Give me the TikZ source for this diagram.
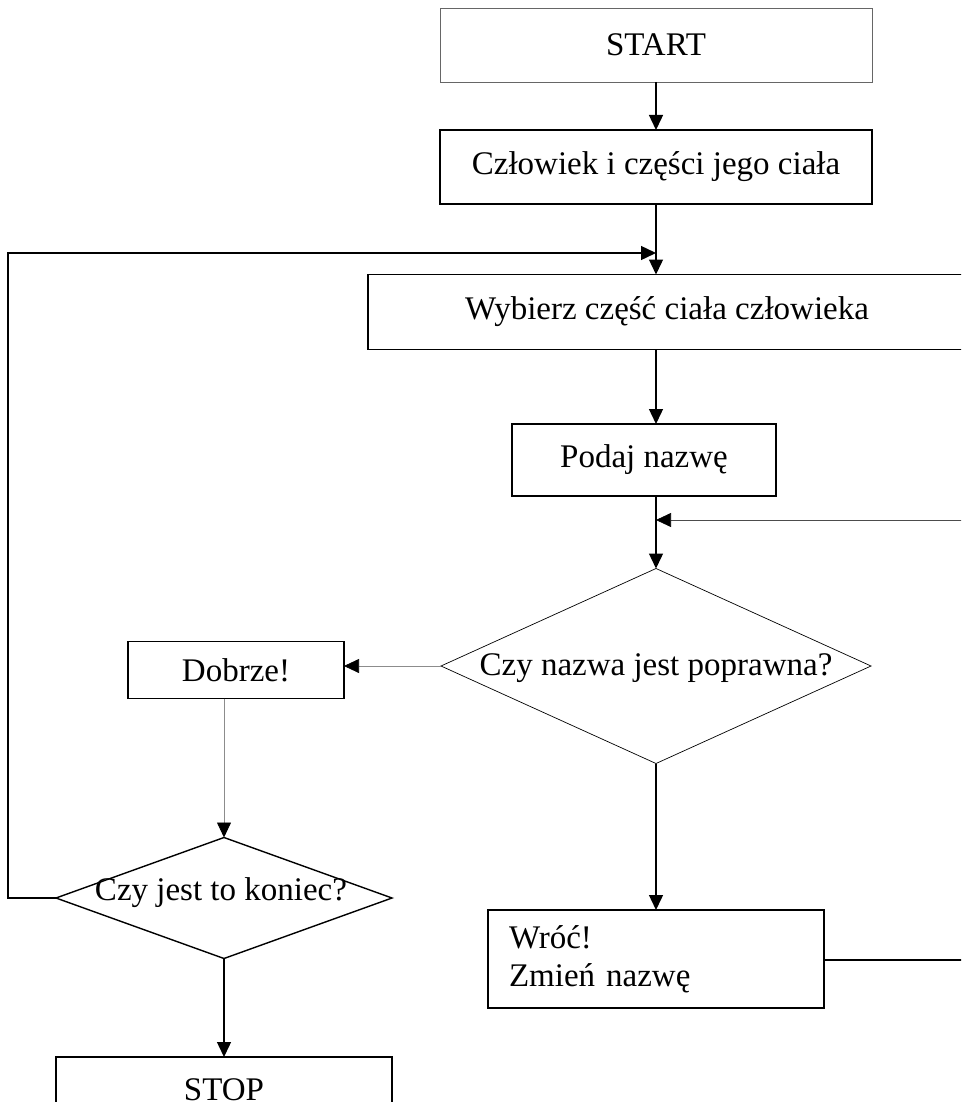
\documentclass[tikz,border=0pt]{standalone}
\usepackage{fontspec}
\setmainfont{Liberation Serif}
\usetikzlibrary{shapes.geometric,arrows.meta}
\begin{document}
\begin{tikzpicture}[x=1pt,y=-1pt,
  every node/.style={font=\fontsize{33}{38}\selectfont},
  thickln/.style={line width=1.4pt,draw=black},
  thinln/.style={line width=0.7pt,draw=black!70},
  greyln/.style={line width=0.7pt,draw=black!45},
  box/.style={rectangle,thickln,inner sep=0pt,outer sep=0pt},
  thinbox/.style={rectangle,line width=0.8pt,draw=black!60,inner sep=0pt,outer sep=0pt},
  dia/.style={diamond,inner sep=0pt,outer sep=0pt},
  tip/.style={-{Triangle[length=15pt 0,width=14pt 0,color=black,fill=black]}},
]
\useasboundingbox (0,0) rectangle (961,1102);
\clip (0,0) rectangle (961,1102);
\coordinate (axis) at (656,0);

\node[thinbox,minimum width=432pt,minimum height=74pt] (start) at (656,45) {START};
\node[box,minimum width=432pt,minimum height=74pt] (czl) at (656,167) {Człowiek i części jego ciała};
\node[box,minimum width=598pt,minimum height=75pt] (wyb) at (667,312) {Wybierz część ciała człowieka};
\node[box,minimum width=264pt,minimum height=72pt] (pod) at (644,460) {Podaj nazwę};
\node[dia,line width=0.7pt,draw=black,minimum width=430pt,minimum height=195pt] (d1) at (656,666) {};
\node (t1) at (656,668) {Czy nazwa jest poprawna?};
\node[box,minimum width=216pt,minimum height=57pt] (dob) at (236,670) {Dobrze!};
\node[dia,thickln,minimum width=336pt,minimum height=121pt] (d2) at (224,898) {};
\node (t2) at (221,893) {Czy jest to koniec?};
\node[box,minimum width=336pt,minimum height=98pt,text width=294pt,align=left] (wroc) at (656,959) {Wróć!\\Zmień nazwę};
\node[box,minimum width=336pt,minimum height=66pt] (stop) at (224,1090) {STOP};

\coordinate (lft) at (8,898);
\coordinate (lp) at (656,253);
\coordinate (rin) at (975,520);
\coordinate (rout) at (975,960);

\draw[thickln,tip] (start) -- (czl);
\draw[thickln,tip] (czl.south -| axis) -- (wyb.north -| axis);
\draw[thickln,tip] (d2.west) -- (lft) |- (lp);
\draw[thickln,tip] (wyb.south -| axis) -- (pod.north -| axis);
\draw[thickln,tip] (pod.south -| axis) -- (d1.north);
\draw[thinln,tip] (rin) -- (rin -| axis);
\draw[greyln,tip] (d1.west) -- (dob.east |- d1.west);
\draw[greyln,tip] (dob.south -| d2.north) -- (d2.north);
\draw[thickln,tip] (d1.south) -- (wroc.north);
\draw[thickln] (wroc.east |- rout) -- (rout);
\draw[thickln,tip] (d2.south) -- (stop.north);
\end{tikzpicture}
\end{document}
